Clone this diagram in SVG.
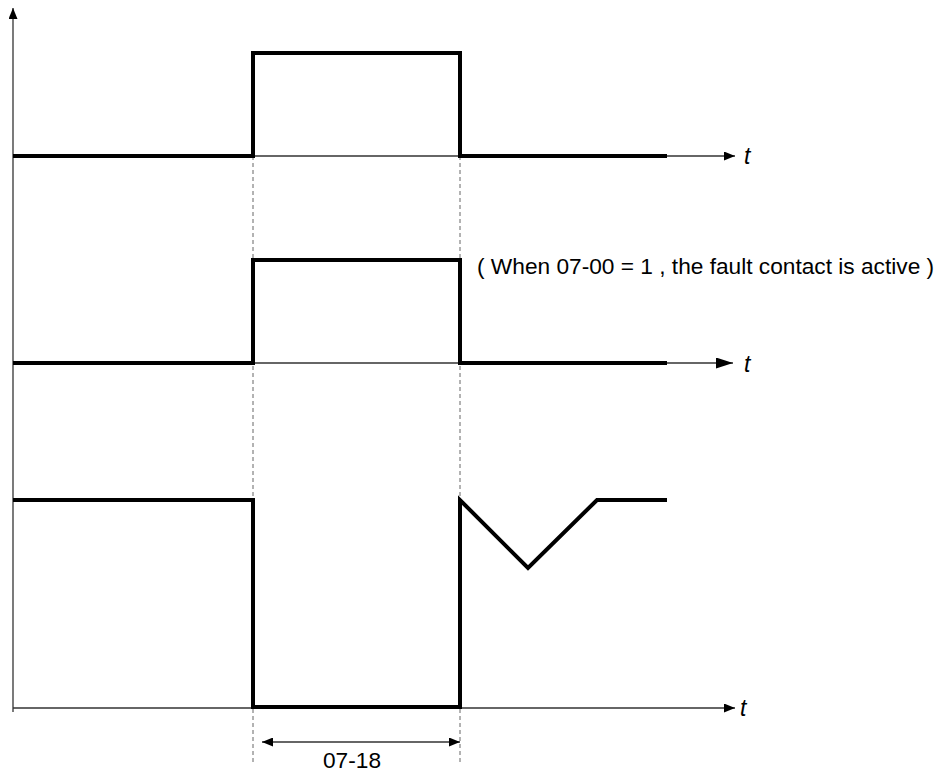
<svg xmlns="http://www.w3.org/2000/svg" width="946" height="772" viewBox="0 0 946 772">
<defs>
<marker id="ah" markerWidth="11" markerHeight="9" refX="11" refY="4.5" orient="auto-start-reverse" markerUnits="userSpaceOnUse"><path d="M0,0 L11,4.5 L0,9 Z" fill="#000"/></marker>
<marker id="ahb" markerWidth="17" markerHeight="11" refX="17" refY="5.5" orient="auto" markerUnits="userSpaceOnUse"><path d="M0,0 L17,5.5 L0,11 Z" fill="#000"/></marker>
</defs>
<style>
.axis{stroke:#333;stroke-width:1.3;fill:none}
.sig{stroke:#000;stroke-width:4;fill:none;stroke-linejoin:miter}
.dash{stroke:#666;stroke-width:1;stroke-dasharray:4,3;fill:none}
.t{font-family:"Liberation Sans",Arial,sans-serif;font-style:italic;font-size:23px;fill:#000}
.lbl{font-family:"Liberation Sans",Arial,sans-serif;font-size:22.7px;fill:#000}
</style>
<g id="connectors">
<line class="axis" x1="13" y1="712" x2="13" y2="8" marker-end="url(#ah)"/>
<line class="axis" x1="13" y1="156" x2="735" y2="156" marker-end="url(#ah)"/>
<line class="axis" x1="13" y1="363" x2="733" y2="363" marker-end="url(#ahb)"/>
<line class="axis" x1="13" y1="708" x2="735" y2="708" marker-end="url(#ah)"/>
<line class="dash" x1="253" y1="156" x2="253" y2="762"/>
<line class="dash" x1="460" y1="156" x2="460" y2="762"/>
<line class="axis" x1="262" y1="742" x2="460" y2="742" marker-start="url(#ah)" marker-end="url(#ah)"/>
</g>
<g id="signal1"><polyline class="sig" points="13,156 253,156 253,53 460,53 460,156 667,156"/></g>
<g id="signal2"><polyline class="sig" points="13,363 253,363 253,260 460,260 460,363 667,363"/></g>
<g id="signal3"><polyline class="sig" points="13,500 253,500 253,707 460,707 460,500 528,568 597,500 667,500"/></g>
<g id="labels">
<text class="t" x="744" y="164">t</text>
<text class="t" x="744" y="372">t</text>
<text class="t" x="740" y="716">t</text>
<text class="lbl" x="477" y="274">( When 07-00 = 1 , the fault contact is active )</text>
<text class="lbl" x="352" y="768" text-anchor="middle">07-18</text>
</g>
</svg>
